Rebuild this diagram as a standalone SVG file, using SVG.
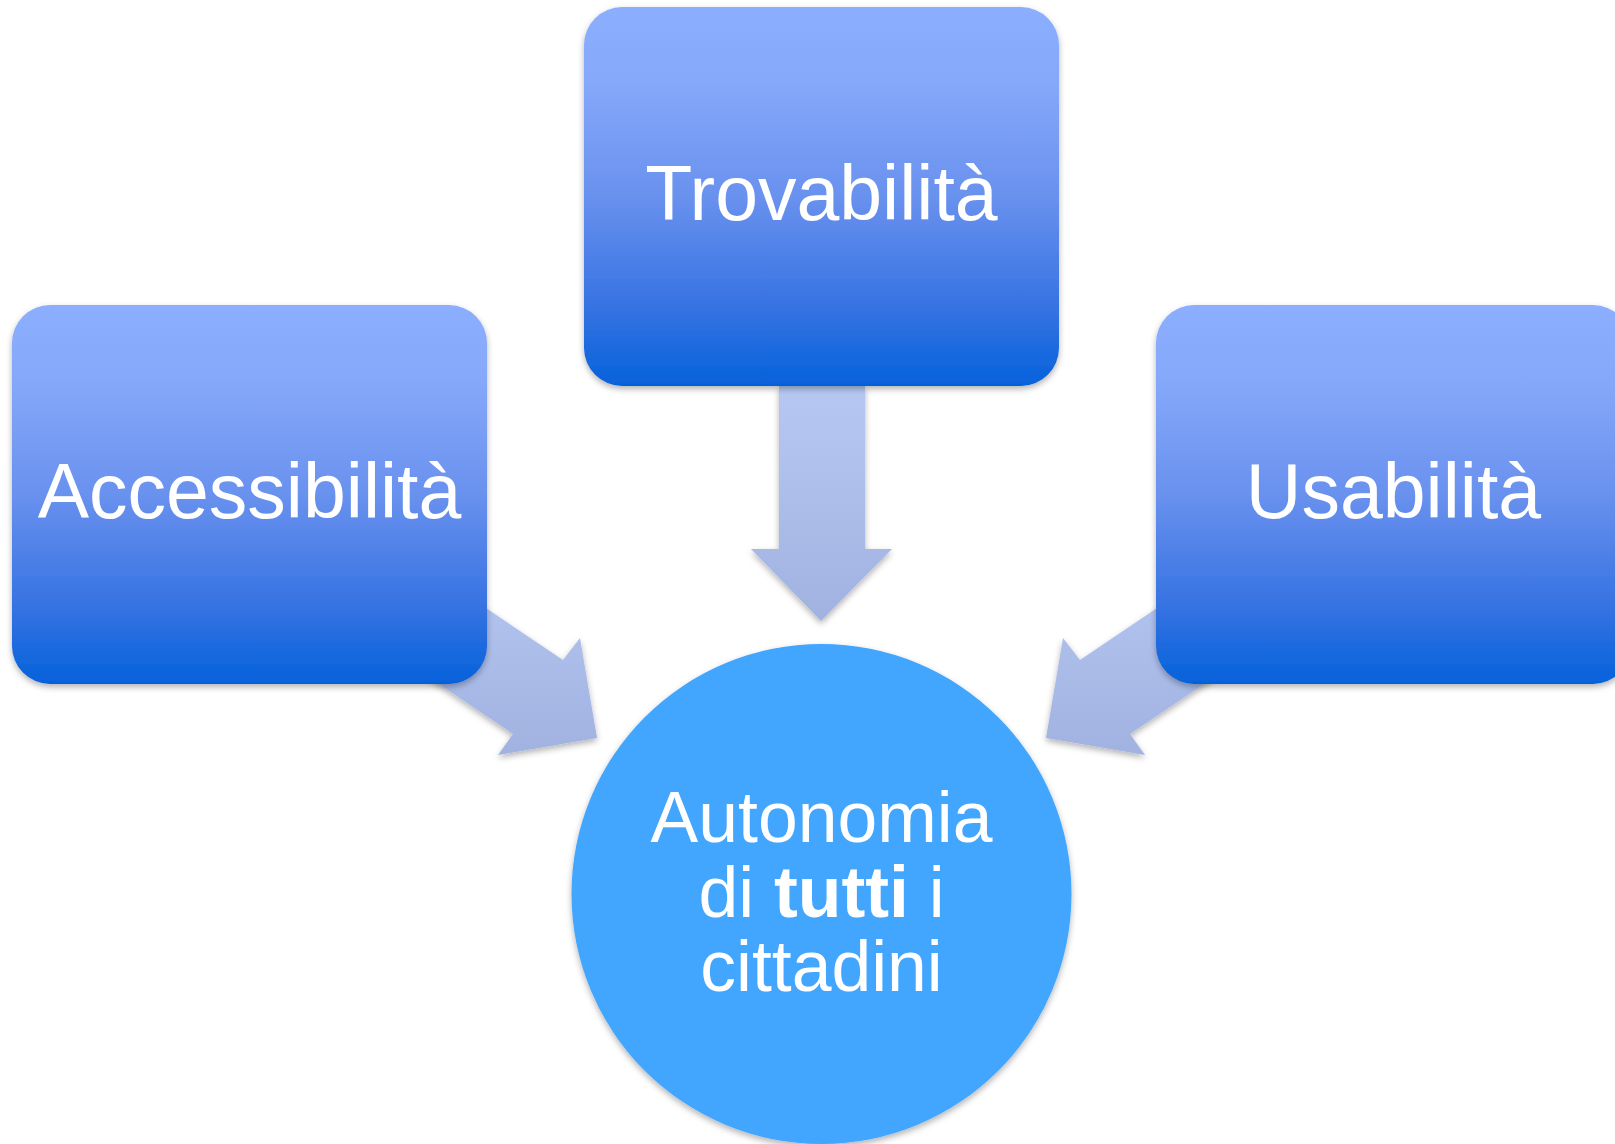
<svg xmlns="http://www.w3.org/2000/svg" width="1615" height="1144" viewBox="0 0 1615 1144">
<defs>
<style>
.lbl{font-family:"Liberation Sans",Arial,sans-serif;fill:#ffffff;text-anchor:middle}
.box{fill:url(#boxGrad);filter:url(#shadow)}
.arrow{fill:url(#arrowGrad);filter:url(#shadow)}
</style>
<linearGradient id="boxGrad" x1="0" y1="0" x2="0" y2="1">
<stop offset="0" stop-color="#8caefe"/>
<stop offset="0.2" stop-color="#85a8fa"/>
<stop offset="0.5" stop-color="#6991ee"/>
<stop offset="0.8" stop-color="#3572e2"/>
<stop offset="1" stop-color="#0562db"/>
</linearGradient>
<linearGradient id="arrowGrad" x1="0" y1="0" x2="0" y2="1">
<stop offset="0" stop-color="#b6c8f2"/>
<stop offset="1" stop-color="#a1b2e1"/>
</linearGradient>
<filter id="shadow" x="-10%" y="-10%" width="120%" height="125%">
<feDropShadow dx="0" dy="3" stdDeviation="3" flood-color="#000000" flood-opacity="0.3"/>
</filter>
</defs>
<rect width="1615" height="1144" fill="#ffffff"/>
<g id="connectors">
<polygon class="arrow" points="779,386 865,386 865,549 892,549 821,621 751,549 779,549"/>
<polygon class="arrow" points="397,548 563,660 580,638 597,738 498,755 513,734 347,622"/>
<polygon class="arrow" points="1246,548 1080,660 1063,638 1046,738 1145,755 1130,734 1296,622"/>
</g>
<g id="node-accessibilita">
<rect class="box" x="12" y="305" width="475" height="379" rx="38" ry="38"/>
<text class="lbl" x="249.5" y="518" font-size="77">Accessibilità</text>
</g>
<g id="node-trovabilita">
<rect class="box" x="584" y="7" width="475" height="379" rx="38" ry="38"/>
<text class="lbl" x="821.5" y="220" font-size="77">Trovabilità</text>
</g>
<g id="node-usabilita">
<rect class="box" x="1156" y="305" width="475" height="379" rx="38" ry="38"/>
<text class="lbl" x="1393.5" y="518" font-size="77">Usabilità</text>
</g>
<g id="node-autonomia">
<circle cx="821.5" cy="894" r="250" fill="#43a5fe" filter="url(#shadow)"/>
<text class="lbl" font-size="71.5"><tspan x="821.5" y="842">Autonomia</tspan><tspan x="821.5" y="916.5">di <tspan font-weight="bold">tutti</tspan> i</tspan><tspan x="821.5" y="991">cittadini</tspan></text>
</g>
</svg>
